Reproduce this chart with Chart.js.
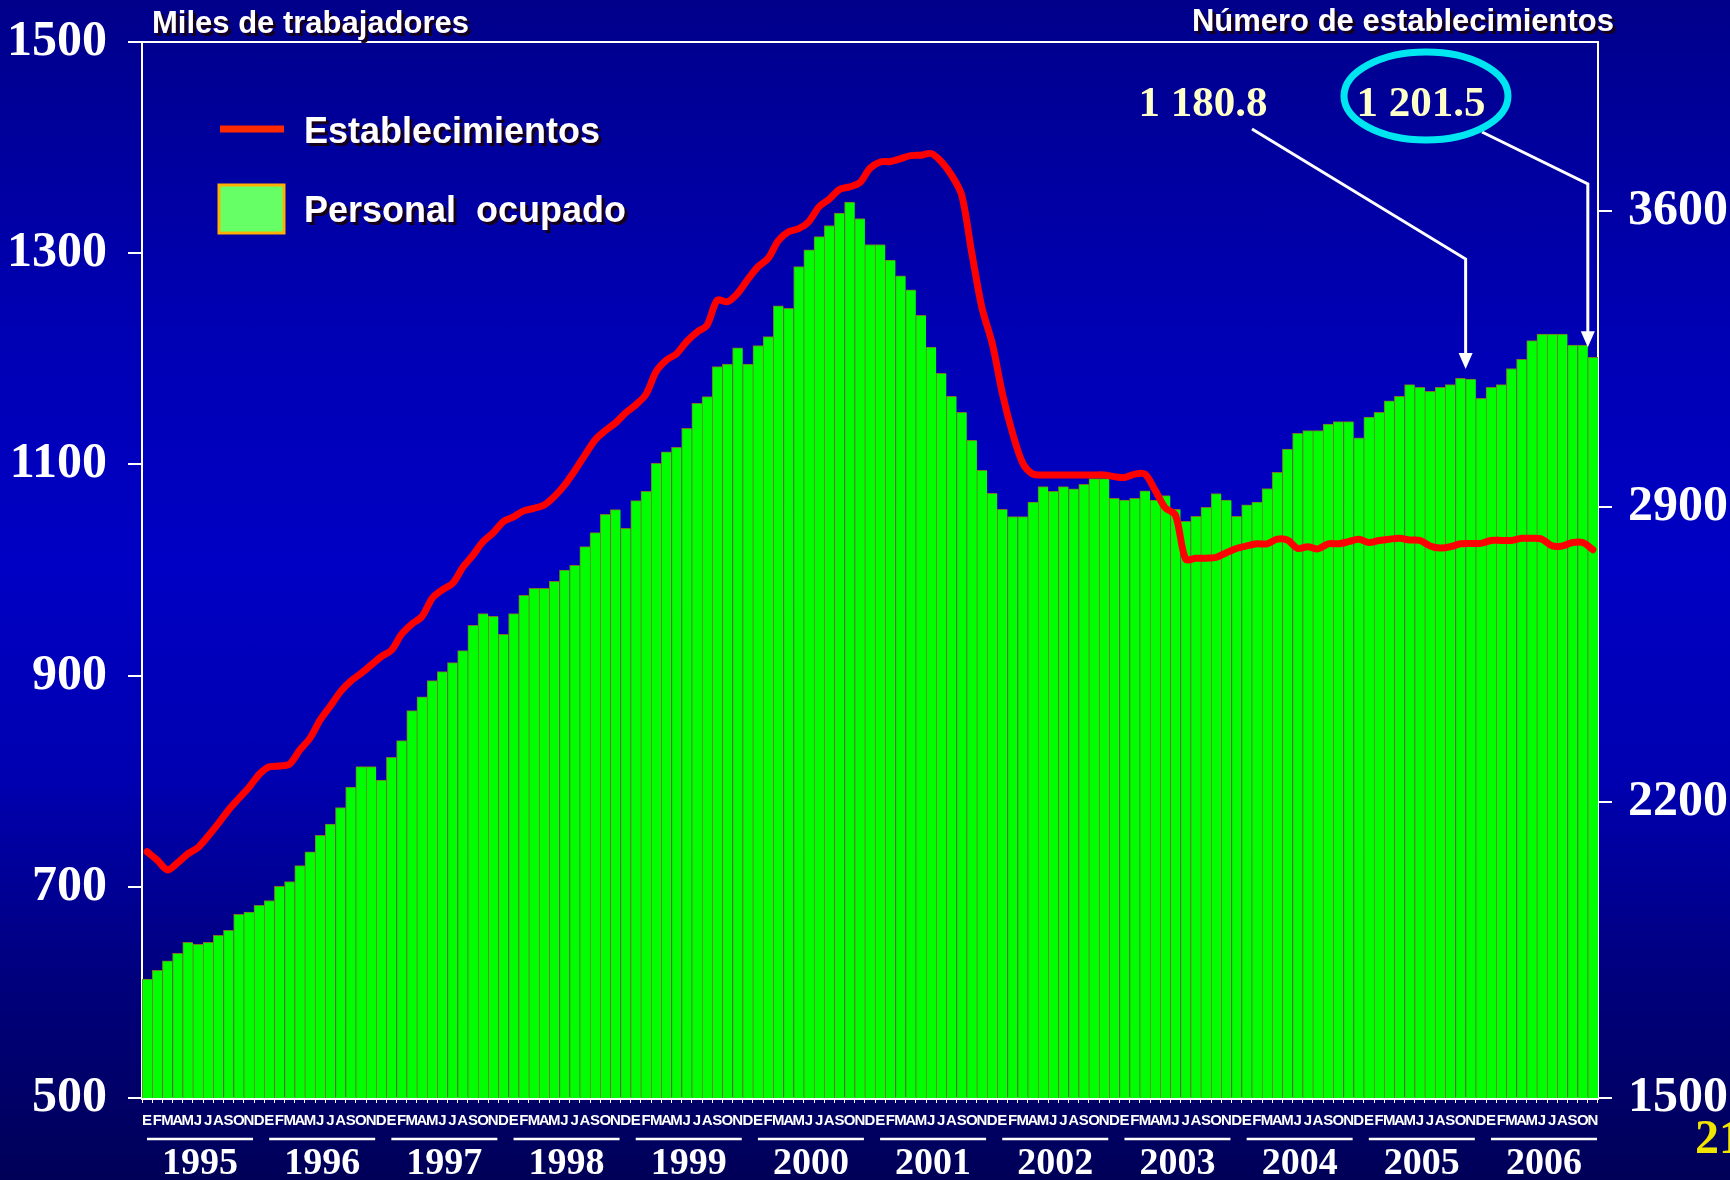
<!DOCTYPE html>
<html>
<head>
<meta charset="utf-8">
<script src="https://cdn.jsdelivr.net/npm/chart.js@4.4.0/dist/chart.umd.min.js"></script>
<style>
  html, body { margin: 0; padding: 0; }
  body {
    width: 1730px; height: 1180px; overflow: hidden;
    background: linear-gradient(to bottom, #00008a 0%, #0000b4 28%, #0000c4 48%, #0000b0 66%, #00007a 84%, #000058 100%);
  }
  canvas { display: block; }
</style>
</head>
<body>
<canvas id="chart" width="1730" height="1180"></canvas>
<script>
const months = ['E', 'F', 'M', 'A', 'M', 'J', 'J', 'A', 'S', 'O', 'N', 'D']
const years = ['1995', '1996', '1997', '1998', '1999', '2000', '2001', '2002', '2003', '2004', '2005', '2006']

// Personal ocupado, miles de trabajadores (ene 1995 - nov 2006)
const personal = [
  612.7, 621.0, 630.0, 637.0, 647.5, 645.5, 647.5, 654.0, 658.8, 674.0, 676.0, 682.5,
  687.0, 700.5, 705.0, 720.0, 733.0, 748.8, 759.5, 775.0, 794.5, 813.8, 813.8, 801.0,
  822.7, 838.4, 866.8, 880.0, 895.2, 903.7, 912.3, 923.6, 947.6, 958.7, 956.2, 939.1,
  958.7, 976.0, 982.7, 982.7, 989.3, 1000.0, 1004.5, 1022.2, 1035.4, 1052.8, 1057.2, 1039.5,
  1065.7, 1074.6, 1101.1, 1111.8, 1116.2, 1134.2, 1157.9, 1164.2, 1192.6, 1195.1, 1210.3, 1195.1,
  1212.5, 1221.0, 1250.1, 1247.9, 1287.3, 1303.1, 1315.7, 1326.2, 1337.9, 1348.3, 1332.8, 1308.2,
  1308.2, 1293.5, 1278.5, 1265.2, 1241.2, 1211.0, 1186.3, 1164.5, 1149.4, 1122.9, 1094.5, 1072.7,
  1057.5, 1050.5, 1050.5, 1064.2, 1079.0, 1074.6, 1079.0, 1076.8, 1081.2, 1086.5, 1086.5, 1067.9,
  1066.3, 1067.9, 1074.9, 1066.3, 1070.4, 1057.5, 1046.2, 1050.9, 1059.4, 1072.3, 1066.3, 1050.9,
  1061.6, 1064.2, 1077.1, 1092.6, 1114.4, 1129.5, 1132.0, 1132.0, 1138.3, 1140.5, 1140.5, 1125.1,
  1144.7, 1149.4, 1160.1, 1164.5, 1175.5, 1173.0, 1169.3, 1173.0, 1175.5, 1181.6, 1180.8, 1162.6,
  1173.0, 1175.5, 1190.8, 1199.5, 1217.2, 1223.5, 1223.5, 1223.5, 1212.9, 1212.9, 1201.5
]

// Número de establecimientos
const establecimientos = [
  2083, 2063, 2040, 2057, 2078, 2093, 2120, 2150, 2182, 2209, 2235, 2266,
  2284, 2286, 2291, 2324, 2352, 2395, 2428, 2462, 2487, 2505, 2525, 2545,
  2560, 2598, 2622, 2640, 2683, 2703, 2718, 2756, 2785, 2817, 2838, 2865,
  2876, 2890, 2896, 2904, 2924, 2951, 2985, 3022, 3058, 3080, 3098, 3122,
  3141, 3166, 3220, 3247, 3262, 3291, 3313, 3330, 3389, 3385, 3405, 3438,
  3468, 3488, 3530, 3551, 3558, 3575, 3610, 3628, 3651, 3657, 3667, 3701,
  3716, 3717, 3724, 3731, 3732, 3736, 3717, 3685, 3638, 3500, 3370, 3287,
  3168, 3074, 3003, 2977, 2975, 2975, 2975, 2975, 2975, 2975, 2975, 2971,
  2969, 2977, 2977, 2939, 2897, 2880, 2776, 2778, 2778, 2780, 2791, 2801,
  2807, 2812, 2812, 2823, 2821, 2801, 2805, 2800, 2812, 2812, 2817, 2823,
  2815, 2820, 2823, 2825, 2821, 2820, 2807, 2802, 2805, 2812, 2813, 2813,
  2820, 2820, 2820, 2825, 2825, 2823, 2807, 2807, 2815, 2815, 2798
]

const leftTicks = [500, 700, 900, 1100, 1300, 1500]
const rightTicks = [1500, 2200, 2900, 3600]

// bars marked with a value callout (nov 2005, nov 2006)
const marked = [130, 142]

const labels = personal.map((v, i) => months[i % 12])

const serif = "'Liberation Serif', 'Times New Roman', serif"
const sans = "'Liberation Sans', Arial, sans-serif"

function shadowText(ctx, text, x, y) {
  ctx.fillStyle = '#16001a'
  ctx.fillText(text, x + 3, y + 3)
  ctx.fillStyle = '#ffffff'
  ctx.fillText(text, x, y)
}

function fmt(v) {
  const s = v.toFixed(1)
  return s.slice(0, -5) + ' ' + s.slice(-5)
}

function arrow(ctx, pts) {
  ctx.strokeStyle = '#ffffff'
  ctx.lineWidth = 3
  ctx.beginPath()
  ctx.moveTo(pts[0][0], pts[0][1])
  for (let i = 1; i < pts.length; i++) ctx.lineTo(pts[i][0], pts[i][1] - (i === pts.length - 1 ? 12 : 0))
  ctx.stroke()
  const tip = pts[pts.length - 1]
  ctx.fillStyle = '#ffffff'
  ctx.beginPath()
  ctx.moveTo(tip[0], tip[1])
  ctx.lineTo(tip[0] - 7, tip[1] - 16)
  ctx.lineTo(tip[0] + 7, tip[1] - 16)
  ctx.closePath()
  ctx.fill()
}

// keep the plot box fixed, labels may overflow into the margins
function noPad(s) {
  s.paddingTop = 0
  s.paddingBottom = 0
  s.paddingLeft = 0
  s.paddingRight = 0
}

const decor = {
  id: 'decor',
  afterDatasetsDraw(chart) {
    const ctx = chart.ctx
    const x = chart.scales.x
    const y = chart.scales.y
    const area = chart.chartArea
    const barW = area.width / labels.length

    ctx.save()
    // top frame line
    ctx.strokeStyle = '#ffffff'
    ctx.lineWidth = 2
    ctx.beginPath()
    ctx.moveTo(area.left, area.top)
    ctx.lineTo(area.right, area.top)
    ctx.stroke()

    // callouts
    const textPos = [[1203, 116], [1421, 116]]
    const starts = [[1252, 129], [1482, 132]]
    const bends = [259, 184]
    ctx.font = 'bold 43px ' + serif
    ctx.textAlign = 'center'
    ctx.textBaseline = 'alphabetic'
    marked.forEach((idx, k) => {
      ctx.fillStyle = '#ffffc8'
      ctx.fillText(fmt(personal[idx]), textPos[k][0], textPos[k][1])
      const bx = x.getPixelForValue(idx) - barW / 2
      const top = y.getPixelForValue(personal[idx]) - 10
      arrow(ctx, [starts[k], [bx, bends[k]], [bx, top]])
    })

    ctx.strokeStyle = '#00e6f0'
    ctx.lineWidth = 7
    ctx.beginPath()
    ctx.ellipse(1426, 96, 82, 44, 0, 0, Math.PI * 2)
    ctx.stroke()
    ctx.restore()
  },
  afterDraw(chart) {
    const ctx = chart.ctx
    const x = chart.scales.x
    const area = chart.chartArea
    const barW = area.width / labels.length
    ctx.save()

    // axis titles
    ctx.font = 'bold 31px ' + sans
    ctx.textBaseline = 'alphabetic'
    ctx.textAlign = 'left'
    shadowText(ctx, 'Miles de trabajadores', 152, 33)
    ctx.textAlign = 'right'
    shadowText(ctx, 'Número de establecimientos', 1614, 31)

    // legend
    const line = chart.data.datasets[0]
    const bars = chart.data.datasets[1]
    ctx.strokeStyle = '#ff2a00'
    ctx.lineWidth = 7
    ctx.beginPath()
    ctx.moveTo(220, 129)
    ctx.lineTo(284, 129)
    ctx.stroke()
    ctx.fillStyle = '#66ff66'
    ctx.fillRect(219, 185, 65, 48)
    ctx.strokeStyle = '#ffb000'
    ctx.lineWidth = 3
    ctx.strokeRect(219, 185, 65, 48)
    ctx.font = 'bold 36px ' + sans
    ctx.textAlign = 'left'
    shadowText(ctx, line.label, 304, 143)
    shadowText(ctx, bars.label, 304, 222)

    // years under the month letters
    ctx.font = 'bold 38px ' + serif
    ctx.textAlign = 'center'
    years.forEach((yr, i) => {
      const left = x.getPixelForValue(i * 12) - barW / 2
      ctx.strokeStyle = '#ffffff'
      ctx.lineWidth = 2.5
      ctx.beginPath()
      ctx.moveTo(left + 5, 1139)
      ctx.lineTo(left + 111, 1139)
      ctx.stroke()
      ctx.fillStyle = '#ffffff'
      ctx.fillText(yr, left + 58, 1174)
    })

    // page number
    ctx.font = 'bold 48px ' + serif
    ctx.textAlign = 'left'
    ctx.fillStyle = '#f2e600'
    ctx.fillText('21', 1695, 1153)
    ctx.restore()
  }
}

new Chart(document.getElementById('chart'), {
  type: 'bar',
  data: {
    labels: labels,
    datasets: [
      {
        type: 'line',
        label: 'Establecimientos',
        data: establecimientos,
        yAxisID: 'y2',
        borderColor: '#ff0000',
        borderWidth: 7,
        borderCapStyle: 'round',
        borderJoinStyle: 'round',
        pointRadius: 0,
        tension: 0.3,
        order: 0
      },
      {
        type: 'bar',
        label: 'Personal  ocupado',
        data: personal,
        yAxisID: 'y',
        backgroundColor: '#00ff00',
        borderColor: '#7d7526',
        borderWidth: { top: 1, left: 1, right: 0, bottom: 0 },
        borderSkipped: false,
        barPercentage: 1,
        categoryPercentage: 1,
        order: 1
      }
    ]
  },
  options: {
    responsive: false,
    animation: false,
    devicePixelRatio: 1,
    layout: { padding: { top: 42, left: 0, right: 0, bottom: 0 } },
    plugins: { legend: { display: false }, tooltip: { enabled: false } },
    scales: {
      x: {
        grid: { drawOnChartArea: false, color: '#ffffff', tickLength: 5, lineWidth: 1 },
        border: { color: '#ffffff', width: 3 },
        ticks: {
          color: '#ffffff', autoSkip: false, maxRotation: 0, minRotation: 0, padding: 9,
          font: { family: "'Liberation Sans Narrow', 'Liberation Sans', sans-serif", size: 15, weight: 'bold' }
        },
        afterFit: s => { s.height = 82; noPad(s) }
      },
      y: {
        position: 'left',
        min: 500,
        max: 1500,
        afterBuildTicks: s => { s.ticks = leftTicks.map(v => ({ value: v })) },
        grid: { drawOnChartArea: false, color: '#ffffff', tickLength: 14, lineWidth: 2 },
        border: { color: '#ffffff', width: 2 },
        ticks: { color: '#ffffff', padding: 21, callback: v => String(v), font: { family: serif, size: 50, weight: 'bold' } },
        afterFit: s => { s.width = 142; noPad(s) }
      },
      y2: {
        position: 'right',
        min: 1500,
        max: 4000,
        afterBuildTicks: s => { s.ticks = rightTicks.map(v => ({ value: v })) },
        grid: { drawOnChartArea: false, color: '#ffffff', tickLength: 14, lineWidth: 2 },
        border: { color: '#ffffff', width: 2 },
        ticks: { color: '#ffffff', padding: 16, callback: v => String(v), font: { family: serif, size: 50, weight: 'bold' } },
        afterFit: s => { s.width = 132; noPad(s) }
      }
    }
  },
  plugins: [decor]
})
</script>
</body>
</html>
